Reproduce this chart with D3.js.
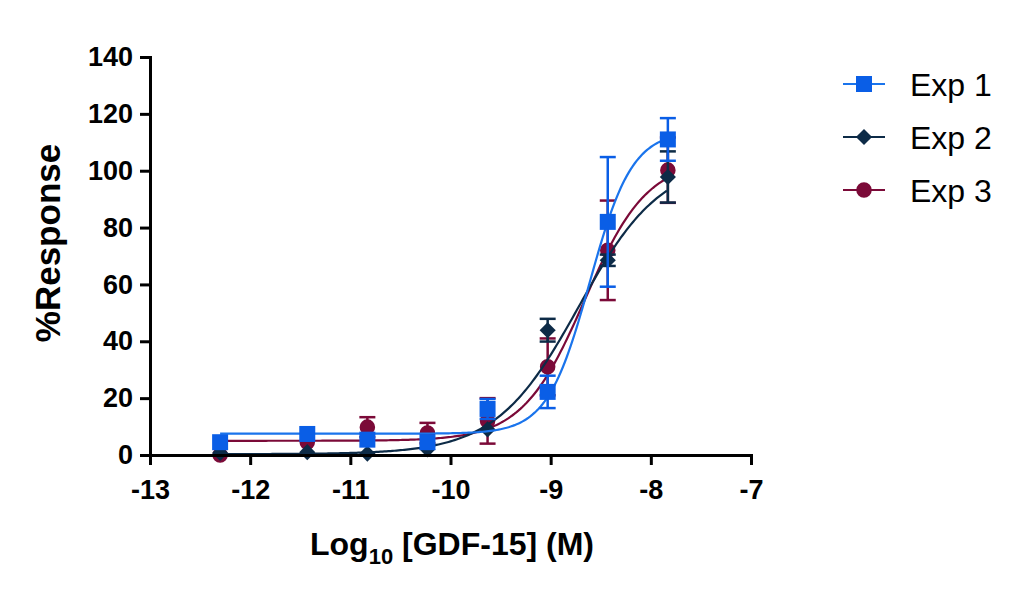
<!DOCTYPE html>
<html>
<head>
<meta charset="utf-8">
<script src="https://cdn.jsdelivr.net/npm/d3@7"></script>
<style>
	body { margin: 0; background: #fff; }
	text { font-family: "Liberation Sans", Arial, sans-serif; }
</style>
</head>
<body>
<div id="chart-area"></div>
<script>
// log10 concentrations (M)
const logDose = [-12.3, -11.43, -10.83, -10.23, -9.63, -9.03, -8.43, -7.83];

const seriesNames = ["Exp 1", "Exp 2", "Exp 3"];
const exp1 = [4.5, 7.4, 5.4, 4.5, 16.2, 22.2, 82, 111];
const exp1Err = [0, 0, 0, 0, 3.5, 5.7, 22.8, 7.5];
const exp2 = [0.7, 1, 0.5, 2, 9, 43.9, 68.5, 97.8];
const exp2Err = [0, 0, 0, 0, 0, 4, 2, 9];
const exp3 = [0, 4.5, 9.8, 7.7, 12, 31, 72, 100.2];
const exp3Err = [0, 0, 3.5, 3.6, 8, 10, 17.5, 11.5];

// four-parameter logistic fits, one per experiment
const fitBottom = [7.5, 0.3, 5];
const fitTop = [114, 104, 104];
const fitLogEC50 = [-8.61, -8.72, -8.66];
const fitHill = [2.05, 1.05, 1.39];

const xTicks = [-13, -12, -11, -10, -9, -8, -7];
const yTicks = [0, 20, 40, 60, 80, 100, 120, 140];

const colors = ["#0a5ee6", "#0d2b47", "#7b0a38"];
const curveColors = ["#1a74ec", "#0d2b47", "#7b0a38"];

// diamond = square turned 45 degrees
const diamond = {
	draw(context, size) {
		const r = Math.sqrt(size / 2);
		context.moveTo(0, -r);
		context.lineTo(r, 0);
		context.lineTo(0, r);
		context.lineTo(-r, 0);
		context.closePath();
	}
};
const shapes = [d3.symbolSquare, diamond, d3.symbolCircle];
const shapeSizes = [256, 130, 190];

const allVals = [exp1, exp2, exp3];
const allErr = [exp1Err, exp2Err, exp3Err];

var svg = d3.select("#chart-area").append("svg")
	.attr("width", 1024)
	.attr("height", 596);

var margin = {top: 57, left: 150};
var width = 601, height = 398;

var g = svg.append("g")
	.attr("transform", "translate(" + margin.left + "," + margin.top + ")");

var x = d3.scaleLinear().domain([-13, -7]).range([0, width]);
var y = d3.scaleLinear().domain([0, 140]).range([height, 0]);

var xAxis = d3.axisBottom(x).tickValues(xTicks).tickSize(10).tickPadding(12)
	.tickFormat(d => d3.format("d")(d).replace("−", "-"));
var yAxis = d3.axisLeft(y).tickValues(yTicks).tickSize(10).tickPadding(7);

// series, drawn Exp 3 first so Exp 1 ends on top
[2, 1, 0].forEach(i => {
	var vals = allVals[i], err = allErr[i];
	var pts = logDose.map((d, j) => ({x: d, y: vals[j], e: err[j]}));

	var fit = d3.range(logDose[0], logDose[logDose.length - 1] + 0.001, 0.02).map(xv => ({
		x: xv,
		y: fitBottom[i] + (fitTop[i] - fitBottom[i]) / (1 + Math.pow(10, (fitLogEC50[i] - xv) * fitHill[i]))
	}));

	g.append("path")
		.datum(fit)
		.attr("fill", "none")
		.attr("stroke", curveColors[i])
		.attr("stroke-width", 2.2)
		.attr("d", d3.line().x(d => x(d.x)).y(d => y(d.y)));

	var eb = g.append("g").selectAll("g")
		.data(pts.filter(d => d.e > 0))
		.enter().append("g")
		.attr("stroke", colors[i])
		.attr("stroke-width", 2.5);
	eb.append("line")
		.attr("x1", d => x(d.x)).attr("x2", d => x(d.x))
		.attr("y1", d => y(d.y - d.e)).attr("y2", d => y(d.y + d.e));
	eb.append("line")
		.attr("x1", d => x(d.x) - 8).attr("x2", d => x(d.x) + 8)
		.attr("y1", d => y(d.y + d.e)).attr("y2", d => y(d.y + d.e));
	eb.append("line")
		.attr("x1", d => x(d.x) - 8).attr("x2", d => x(d.x) + 8)
		.attr("y1", d => y(d.y - d.e)).attr("y2", d => y(d.y - d.e));

	g.append("g").selectAll("path")
		.data(pts)
		.enter().append("path")
		.attr("d", d3.symbol().type(shapes[i]).size(shapeSizes[i]))
		.attr("transform", d => "translate(" + x(d.x) + "," + y(d.y) + ")")
		.attr("fill", colors[i]);
});

// axes
var gx = g.append("g")
	.attr("transform", "translate(0," + height + ")")
	.call(xAxis);
var gy = g.append("g")
	.call(yAxis);

[gx, gy].forEach(a => {
	a.select(".domain").attr("stroke", "#000").attr("stroke-width", 3);
	a.selectAll(".tick line").attr("stroke", "#000").attr("stroke-width", 3);
	a.selectAll(".tick text")
		.attr("fill", "#000")
		.style("font-size", "27px")
		.style("font-weight", "bold")
		.style("font-family", "'Liberation Sans', Arial, sans-serif");
});
gx.selectAll(".tick text").attr("dy", "0.8em");

// axis titles
var xt = svg.append("text")
	.attr("x", 452)
	.attr("y", 555)
	.attr("text-anchor", "middle")
	.style("font-size", "32px")
	.style("font-weight", "bold");
xt.append("tspan").text("Log");
xt.append("tspan").text("10").attr("dy", 9).style("font-size", "22px");
xt.append("tspan").text(" [GDF-15] (M)").attr("dy", -9);

svg.append("text")
	.attr("transform", "translate(60,243) rotate(-90)")
	.attr("text-anchor", "middle")
	.style("font-size", "35px")
	.style("font-weight", "bold")
	.text("%Response");

// legend
var legend = svg.append("g").selectAll("g")
	.data(seriesNames)
	.enter().append("g")
	.attr("transform", (d, i) => "translate(843," + (84 + i * 53) + ")");
legend.append("line")
	.attr("x1", 0).attr("x2", 42)
	.attr("stroke", (d, i) => curveColors[i])
	.attr("stroke-width", 2.2);
legend.append("path")
	.attr("d", (d, i) => d3.symbol().type(shapes[i]).size(shapeSizes[i])())
	.attr("transform", "translate(21,0)")
	.attr("fill", (d, i) => colors[i]);
legend.append("text")
	.attr("x", 67)
	.attr("dy", "0.36em")
	.style("font-size", "32px")
	.text(d => d);
</script>
</body>
</html>
